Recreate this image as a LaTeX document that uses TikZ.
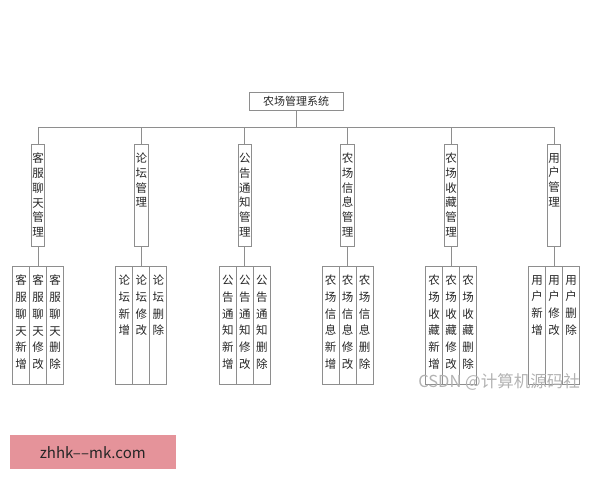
\documentclass[tikz,border=0pt]{standalone}
\usepackage{fontspec}
\setmainfont{Noto Sans CJK SC}
\definecolor{ln}{HTML}{8E8E8E}
\definecolor{pinkc}{HTML}{E5939A}
\newcommand{\midtxt}[1]{\parbox[c][102.7pt][t]{13pt}{\centering\fontsize{11.5}{14.7}\selectfont\vspace*{9.2pt}#1}}
\newcommand{\leaftxt}[1]{\parbox[c][117.3pt][t]{16pt}{\centering\fontsize{11.5}{16.7}\selectfont\vspace*{8.5pt}#1}}
\tikzset{
  x=1pt, y=-1pt,
  conn/.style={draw=ln, line width=0.9pt},
  rootbox/.style={draw=ln, line width=0.9pt, minimum width=94pt, minimum height=18pt, inner sep=0pt, font=\fontsize{11}{13}\selectfont, text=black!85},
  midbox/.style={draw=ln, line width=0.9pt, minimum width=13.5pt, minimum height=102.7pt, inner sep=0pt, text=black!85},
  leafbox/.style={draw=ln, line width=0.9pt, minimum width=17pt, minimum height=117.3pt, inner sep=0pt, text=black!85},
}
\begin{document}
\begin{tikzpicture}
\useasboundingbox (0,0) rectangle (600,480);
\node[rootbox] (root) at (296,101) {农场管理系统};
\coordinate (bus) at (296,127.3);
% second level
\node[midbox] (c1) at (38,195.35) {\midtxt{客\\服\\聊\\天\\管\\理}};
\node[midbox] (c2) at (141.3,195.35) {\midtxt{论\\坛\\管\\理}};
\node[midbox] (c3) at (244.8,195.35) {\midtxt{公\\告\\通\\知\\管\\理}};
\node[midbox] (c4) at (347.5,195.35) {\midtxt{农\\场\\信\\息\\管\\理}};
\node[midbox] (c5) at (451,195.35) {\midtxt{农\\场\\收\\藏\\管\\理}};
\node[midbox] (c6) at (554,195.35) {\midtxt{用\\户\\管\\理}};
% leaves
\node[leafbox] (l11) at (21,325.35) {\leaftxt{客\\服\\聊\\天\\新\\增}};
\node[leafbox] (l12) at (38,325.35) {\leaftxt{客\\服\\聊\\天\\修\\改}};
\node[leafbox] (l13) at (55,325.35) {\leaftxt{客\\服\\聊\\天\\删\\除}};
\node[leafbox] (l21) at (124.3,325.35) {\leaftxt{论\\坛\\新\\增}};
\node[leafbox] (l22) at (141.3,325.35) {\leaftxt{论\\坛\\修\\改}};
\node[leafbox] (l23) at (158.3,325.35) {\leaftxt{论\\坛\\删\\除}};
\node[leafbox] (l31) at (227.8,325.35) {\leaftxt{公\\告\\通\\知\\新\\增}};
\node[leafbox] (l32) at (244.8,325.35) {\leaftxt{公\\告\\通\\知\\修\\改}};
\node[leafbox] (l33) at (261.8,325.35) {\leaftxt{公\\告\\通\\知\\删\\除}};
\node[leafbox] (l41) at (330.5,325.35) {\leaftxt{农\\场\\信\\息\\新\\增}};
\node[leafbox] (l42) at (347.5,325.35) {\leaftxt{农\\场\\信\\息\\修\\改}};
\node[leafbox] (l43) at (364.5,325.35) {\leaftxt{农\\场\\信\\息\\删\\除}};
\node[leafbox] (l51) at (434,325.35) {\leaftxt{农\\场\\收\\藏\\新\\增}};
\node[leafbox] (l52) at (451,325.35) {\leaftxt{农\\场\\收\\藏\\修\\改}};
\node[leafbox] (l53) at (468,325.35) {\leaftxt{农\\场\\收\\藏\\删\\除}};
\node[leafbox] (l61) at (537,325.35) {\leaftxt{用\\户\\新\\增}};
\node[leafbox] (l62) at (554,325.35) {\leaftxt{用\\户\\修\\改}};
\node[leafbox] (l63) at (571,325.35) {\leaftxt{用\\户\\删\\除}};
% connectors
\draw[conn] (root.south) -- (bus);
\foreach \k in {1,...,6}{
  \draw[conn] (bus) -| (c\k.north);
  \draw[conn] (c\k.south) -- (l\k2.north);
}
% watermark and site label
\node[font=\fontsize{16.5}{18}\selectfont, text=black!30] (wm) at (499,382) {CSDN @计算机源码社};
\node[fill=pinkc, minimum width=165.7pt, minimum height=34.3pt, inner sep=0pt, font=\fontsize{15}{17}\selectfont, text=black!85] (site) at (92.8,452.2) {zhhk–\kern0.3pt–mk.com};
\end{tikzpicture}
\end{document}
